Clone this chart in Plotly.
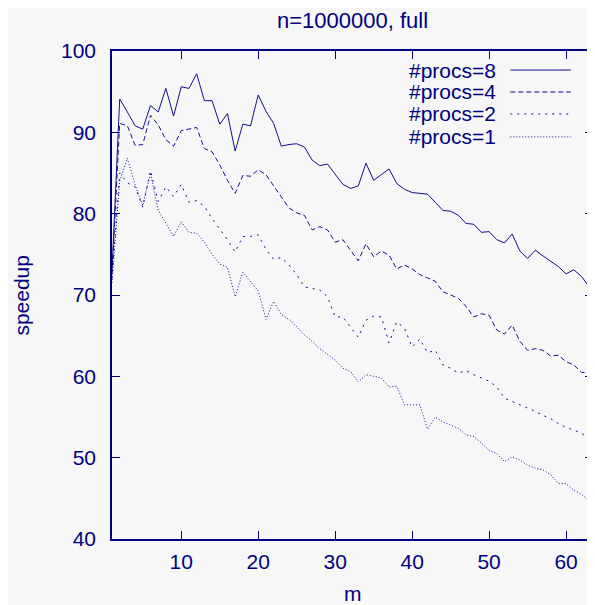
import plotly.graph_objects as go

m = list(range(1, 65))

procs8 = [73.0, 94.1, 92.5, 90.8, 90.4, 93.3, 92.5, 95.4, 92.0, 95.6,
          95.4, 97.2, 93.9, 93.9, 91.0, 92.3, 87.7, 91.0, 90.8, 94.6,
          92.6, 91.1, 88.3, 88.5, 88.6, 88.2, 86.6, 85.9, 86.1, 84.8,
          83.6, 83.1, 83.4, 86.2, 84.1, 84.8, 85.5, 83.7, 83.0, 82.6,
          82.5, 82.4, 81.4, 80.4, 80.3, 79.8, 78.8, 78.7, 77.7, 77.8,
          76.8, 76.4, 77.5, 75.4, 74.5, 75.5, 74.8, 74.2, 73.5, 72.6,
          73.1, 72.3, 71.0, 70.8]

procs4 = [72.5, 91.1, 90.8, 88.4, 88.5, 92.1, 90.9, 89.1, 88.3, 90.2,
          90.4, 90.6, 88.0, 87.6, 86.0, 84.1, 82.5, 84.7, 84.6, 85.4,
          84.8, 83.4, 82.0, 80.7, 80.1, 79.8, 78.0, 78.4, 78.0, 76.5,
          76.8, 75.5, 74.2, 76.3, 74.7, 75.4, 74.9, 73.2, 73.7, 73.2,
          72.5, 72.1, 71.7, 70.4, 70.0, 69.6, 68.6, 67.3, 67.7, 67.5,
          65.7, 65.2, 66.3, 64.3, 63.2, 63.4, 63.2, 62.5, 62.6, 61.8,
          61.4, 60.5, 60.4, 60.2]

procs2 = [72.0, 85.0, 83.8, 83.3, 80.8, 85.3, 81.5, 83.3, 82.1, 83.6,
          81.4, 81.6, 80.9, 79.4, 78.1, 76.8, 75.3, 77.2, 77.2, 77.4,
          75.6, 74.4, 74.6, 73.7, 72.5, 71.0, 70.8, 70.6, 69.8, 67.3,
          67.3, 66.1, 64.8, 66.9, 67.4, 67.3, 64.1, 66.7, 65.9, 63.6,
          64.6, 62.9, 63.2, 61.4, 61.0, 60.4, 60.7, 60.2, 59.8, 59.4,
          58.7, 57.3, 56.9, 56.5, 56.1, 55.7, 55.2, 54.8, 54.2, 53.7,
          53.4, 53.0, 52.3, 52.0]

procs1 = [71.5, 84.0, 86.8, 83.6, 81.0, 85.0, 80.4, 78.8, 77.2, 79.0,
          77.7, 77.6, 76.5, 75.0, 73.8, 73.4, 69.8, 72.8, 71.7, 70.5,
          67.0, 69.2, 67.6, 67.0, 66.1, 65.1, 64.3, 63.4, 62.7, 62.0,
          61.0, 60.6, 59.3, 60.2, 60.0, 59.8, 58.7, 58.8, 56.5, 56.5,
          56.5, 53.5, 55.0, 54.4, 54.0, 53.6, 52.8, 52.6, 51.8, 50.9,
          50.5, 49.5, 50.1, 49.7, 49.1, 48.7, 48.5, 47.9, 46.8, 46.8,
          46.0, 45.5, 44.7, 44.4]

labels = ["#procs=8", "#procs=4", "#procs=2", "#procs=1"]
series = [procs8, procs4, procs2, procs1]
dashes = ["solid", "5px,3px", "2px,5px", "1px,2px"]

x_ticks = [10, 20, 30, 40, 50, 60]
y_ticks = [40, 50, 60, 70, 80, 90, 100]

NAVY = "#000080"
LINE = "#10108a"
BG = "#f7f7f7"
FONT = "Liberation Sans, Arial, sans-serif"

fig = go.Figure()
for lab, ys, d in zip(labels, series, dashes):
    fig.add_trace(go.Scatter(x=m, y=ys, mode="lines", name=lab,
                             line=dict(color=LINE, width=1, dash=d),
                             showlegend=False))

# gnuplot-style legend: text left, line sample right
legend_y = [0.961, 0.916, 0.871, 0.824]
for lab, d, yy in zip(labels, dashes, legend_y):
    fig.add_annotation(xref="paper", yref="paper", x=0.80, y=yy,
                       text=lab, showarrow=False, xanchor="right",
                       yanchor="middle", borderpad=0,
                       font=dict(size=21, color=NAVY, family=FONT))
    fig.add_shape(type="line", xref="paper", yref="paper",
                  x0=0.828, x1=0.954, y0=yy, y1=yy,
                  line=dict(color=LINE, width=1, dash=d))

fig.add_annotation(xref="paper", yref="paper", x=0.5, y=-0.111,
                   text="m", showarrow=False, xanchor="center", yanchor="middle",
                   font=dict(size=21, color=NAVY, family=FONT))
fig.add_annotation(xref="paper", yref="paper", x=-0.19, y=0.5,
                   text="speedup", showarrow=False, textangle=-90,
                   xanchor="center", yanchor="middle",
                   font=dict(size=21, color=NAVY, family=FONT))

# page body has an 8px margin, so the figure is sized/offset to compensate
fig.update_layout(
    width=587, height=597,
    margin=dict(l=104, r=0, t=43, b=66),
    paper_bgcolor=BG, plot_bgcolor=BG,
    font=dict(family=FONT, size=21, color=NAVY),
    title=dict(text="n=1000000, full", x=0.5, xref="paper", y=0.980,
               yref="container", yanchor="middle", xanchor="center",
               font=dict(size=22, color=NAVY, family=FONT)),
)
fig.update_xaxes(range=[1, 63.5], tickvals=x_ticks, ticks="inside", ticklen=8,
                 tickcolor=NAVY, showline=True, linecolor=NAVY, linewidth=1.5,
                 mirror="ticks", showgrid=False, zeroline=False,
                 tickfont=dict(size=21, color=NAVY), ticklabelstandoff=3)
fig.update_yaxes(range=[40, 100], tickvals=y_ticks, ticks="inside", ticklen=8,
                 tickcolor=NAVY, showline=True, linecolor=NAVY, linewidth=1.5,
                 mirror="ticks", showgrid=False, zeroline=False,
                 tickfont=dict(size=21, color=NAVY), ticklabelstandoff=10)

fig.write_html("out.html")
